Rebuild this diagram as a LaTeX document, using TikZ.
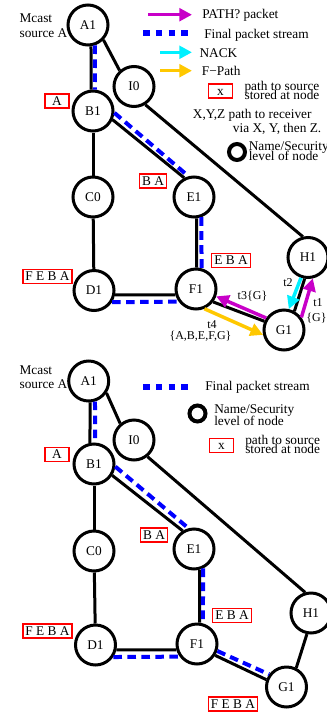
\documentclass[tikz,border=0pt]{standalone}
\usepackage{fontspec}
\setmainfont{Liberation Serif}
\usetikzlibrary{arrows.meta}
\definecolor{pathq}{RGB}{200,0,200}
\definecolor{nack}{RGB}{0,240,255}
\definecolor{fpath}{RGB}{255,200,0}
% let stacked legend lines sit closer than their glyph heights
\newcommand\closelines{\lineskiplimit=-100pt\relax\lineskip=0pt\relax}
\begin{document}
\begin{tikzpicture}[x=0.75pt,y=-0.75pt,
  every node/.style={font=\fontsize{10}{12}\selectfont},
  nd/.style={circle,draw,line width=2.25pt,minimum size=30pt,inner sep=0pt},
  link/.style={line width=2.25pt},
  stream/.style={draw=blue,line width=3pt,dash pattern=on 6.5pt off 4pt},
  keystream/.style={draw=blue,line width=4.5pt,dash pattern=on 5pt off 4.6pt},
  msg/.style={line width=2.6pt,-{Triangle[length=9.5pt,width=9.5pt]}},
  pbox/.style={draw=red,line width=1.1pt,inner xsep=2pt,inner ysep=1.4pt,
    text height=7pt,text depth=1pt,minimum width=18pt},
  lbl/.style={anchor=base west,inner sep=0pt},
  % two-line text block, placed by the baseline of its last line
  tight/.style={anchor=base west,inner sep=0pt,align=left,
    font={\fontsize{10}{#1}\selectfont\closelines}},
  tag/.style={anchor=base,inner sep=0pt,font=\fontsize{9}{11}\selectfont},
  keynode/.style={draw,circle,line width=3pt,minimum size=12pt,inner sep=0pt},
]
\fill[white] (0,0) rectangle (327,715);
\useasboundingbox (0,0) rectangle (327,715);

% ---------------- upper network: path discovery ----------------
\node[nd] (tA1) at (88,25) {A1};
\node[nd] (tI0) at (134,86.5) {I0};
\node[nd] (tB1) at (93,111) {B1};
\node[nd] (tC0) at (93,197) {C0};
\node[nd] (tD1) at (94,290.5) {D1};
\node[nd] (tE1) at (194,197) {E1};
\node[nd] (tF1) at (196,289) {F1};
\node[nd] (tH1) at (308,257.5) {H1};
\node[nd] (tG1) at (284,330) {G1};

\draw[link] (tA1.-82) -- (tB1.95);
\draw[link] (tA1.-44) -- (tI0.132);
\draw[link] (tI0.-58) -- (tH1.104);
\draw[link] (tB1) -- (tC0);
\draw[link] (tC0) -- (tD1);
\draw[link] (tB1.-24) -- (tE1.117);
\draw[link] (tE1.-83) -- (tF1.88);
\draw[link] (tD1.-12) -- (tF1.196);
\draw[link] (tF1.-37) -- (tG1.156);
\draw[link] (tG1.61) -- (tH1.261);

\draw[stream] (tA1.-71) -- (tB1.85);
\draw[stream] (tB1.-5) -- (tE1.105);
\draw[stream] (tE1.-70) -- (tF1.75);
\draw[stream] (tD1.-33) -- (tF1.216);

\draw[msg,pathq] (tG1.36) -- (tH1.-77.5);
\draw[msg,nack] (tH1.-109) -- (tG1.77);
\draw[msg,pathq] (tG1.146) -- (tF1.-20.5);
\draw[msg,fpath] (tF1.-67) -- (tG1.193);

\node[tag] at (288,286.5) {t2};
\node[tag] at (318,306.5) {t1};
\node[tag] at (316.5,321) {\{G\}};
\node[tag] at (252.5,299.5) {t3\{G\}};
\node[tag] at (212,328.5) {t4};
\node[tag] at (200.5,339.5) {\{A,B,E,F,G\}};

\node[pbox] (tpA) at (57,101) {A};
\node[pbox] (tpB) at (153,181) {B A};
\node[pbox] (tpD) at (47.5,276.5) {F E B A};
\node[pbox] (tpF) at (231,260.5) {E B A};

\node[tight=11.2pt] (tsrc) at (19.3,37) {Mcast\\source A};

% legend
\coordinate (k1a) at (148,14.7);  \coordinate (k1b) at (192,14.7);
\coordinate (k2a) at (143,33.3);  \coordinate (k2b) at (193,33.3);
\coordinate (k3a) at (160,52.3);  \coordinate (k3b) at (192,52.3);
\coordinate (k4a) at (160,70.7);  \coordinate (k4b) at (192,70.7);
\draw[msg,pathq] (k1a) -- (k1b);
\draw[keystream] (k2a) -- (k2b);
\draw[msg,nack] (k3a) -- (k3b);
\draw[msg,fpath] (k4a) -- (k4b);
\node[lbl] at (202,18.5) {PATH? packet};
\node[lbl] at (204,38) {Final packet stream};
\node[lbl] at (199.3,57) {NACK};
\node[lbl] at (201.7,75.5) {F−Path};
\node[pbox] (tkx) at (220.5,91) {x};
\node[tight=6.6pt] (tkxt) at (244.3,99.5) {path to source\\stored at node};
\node[lbl] at (192.7,118.8) {X,Y,Z path to receiver};
\node[lbl] at (232.7,132) {via X, Y, then Z.};
\node[keynode] (tkc) at (237,152) {};
\node[tight=7.7pt] (tkct) at (248.5,160.8) {Name/Security\\level of node};

% ---------------- lower network: resulting stream ----------------
\node[nd] (bA1) at (88.7,381) {A1};
\node[nd] (bI0) at (134,440) {I0};
\node[nd] (bB1) at (94,464) {B1};
\node[nd] (bC0) at (94,551) {C0};
\node[nd] (bD1) at (95.5,645) {D1};
\node[nd] (bE1) at (194,549) {E1};
\node[nd] (bF1) at (197,644) {F1};
\node[nd] (bH1) at (311,613) {H1};
\node[nd] (bG1) at (286.5,687) {G1};

\draw[link] (bA1.-86.5) -- (bB1.101);
\draw[link] (bA1.-34) -- (bI0.130);
\draw[link] (bI0.-51) -- (bH1.106);
\draw[link] (bB1) -- (bC0);
\draw[link] (bC0) -- (bD1);
\draw[link] (bB1.-32) -- (bE1.122);
\draw[link] (bE1.-75) -- (bF1.83);
\draw[link] (bD1.-13) -- (bF1.196);
\draw[link] (bF1.-32) -- (bG1.160);
\draw[link] (bG1.63) -- (bH1.259);

\draw[stream] (bA1.-73) -- (bB1.87);
\draw[stream] (bB1.-7) -- (bE1.105);
\draw[stream] (bE1.-65) -- (bF1.74);
\draw[stream] (bD1.-34) -- (bF1.216);
\draw[stream] (bF1.-19) -- (bG1.144);

\node[pbox] (bpA) at (57,454.5) {A};
\node[pbox] (bpB) at (154,535) {B A};
\node[pbox] (bpD) at (47.5,631) {F E B A};
\node[pbox] (bpF) at (232,615.5) {E B A};
\node[pbox] (bpG) at (233,704) {F E B A};

\node[tight=10.5pt] (bsrc) at (19.3,388.8) {Mcast\\source A};

% legend
\coordinate (m1a) at (143,386.7); \coordinate (m1b) at (193,386.7);
\draw[keystream] (m1a) -- (m1b);
\node[lbl] at (205,390.5) {Final packet stream};
\node[keynode] (bkc) at (197.5,413.5) {};
\node[tight=8.4pt] (bkct) at (214,425) {Name/Security\\level of node};
\node[pbox] (bkx) at (221.5,445.5) {x};
\node[tight=6.75pt] (bkxt) at (245,453) {path to source\\stored at node};
\end{tikzpicture}
\end{document}
